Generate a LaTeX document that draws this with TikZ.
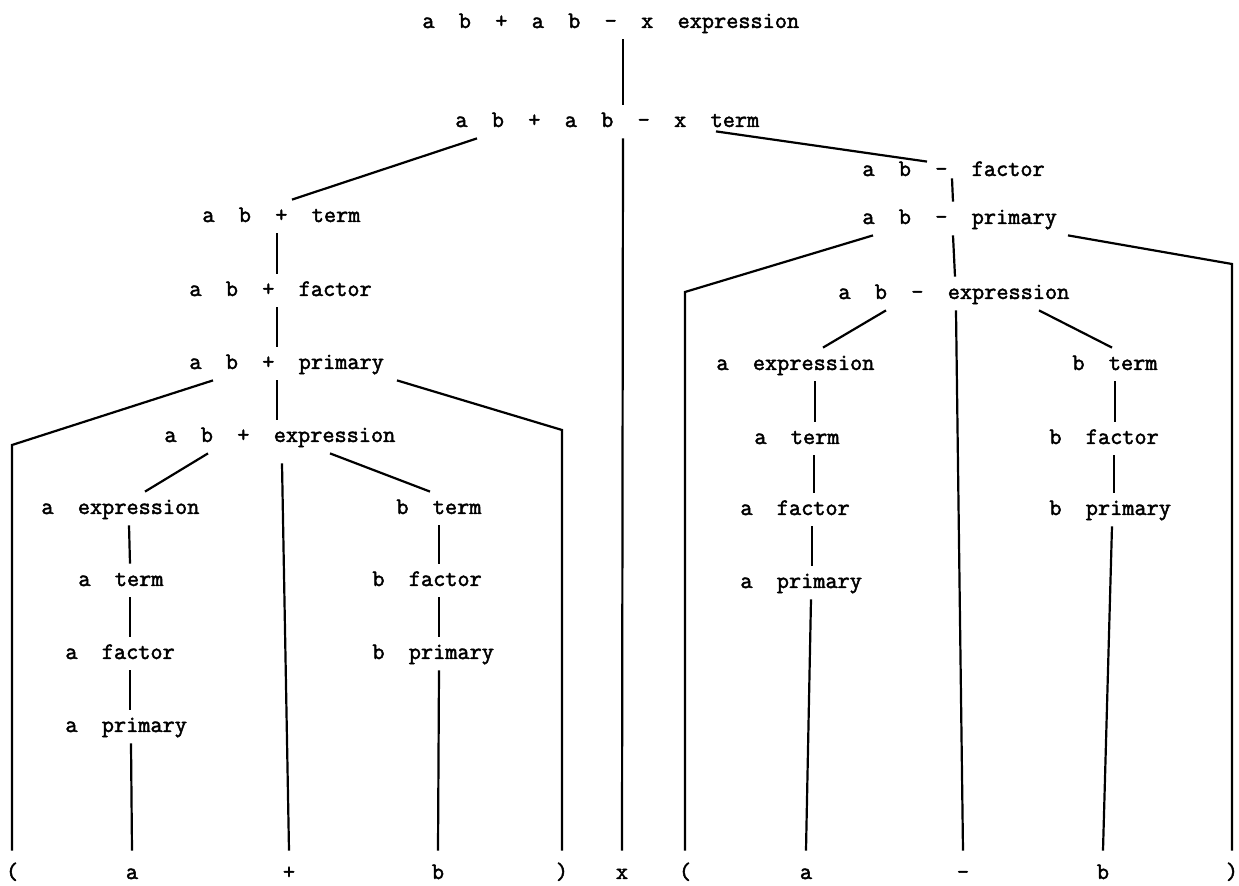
\documentclass[tikz,border=0pt]{standalone}
\usepackage{fontspec}
\usetikzlibrary{calc}
\newfontfamily\treefont{Latin Modern Mono}[FakeBold=2]
\tikzset{
	lab/.style={font={\fontsize{11.8pt}{14pt}\treefont}, anchor=base west, inner xsep=0pt, inner ysep=5.5pt, text height=5.5pt, text depth=0pt},
	leaf/.style={lab, anchor=base, text height=8.5pt},
	edge/.style={line width=1.1pt}
}
\begin{document}
\begin{tikzpicture}[x=0.5pt, y=-0.5pt]
			\useasboundingbox (0,0) rectangle (1239,886);

			\node[lab] (e0) at(422, 28){a~~b~~+~~a~~b~~-~~x~~expression};
			\node[lab] (t0) at(455, 127){a~~b~~+~~a~~b~~-~~x~~term};

			% left part
			\node[lab] (tL) at(202, 222){a~~b~~+~~term};
			\node[lab] (fL) at(189, 296){a~~b~~+~~factor};
			\node[lab] (pL) at(189, 369){a~~b~~+~~primary};
			\node[lab] (eL) at(164, 442){a~~b~~+~~expression};
				\node[lab] (eLa) at(41, 514){a~~expression};
				\node[lab] (tLa) at(78, 586){a~~term};
				\node[lab] (fLa) at(65, 659){a~~factor};
				\node[lab] (pLa) at(65, 732){a~~primary};
				\node[lab] (tLb) at(396, 514){b~~term};
				\node[lab] (fLb) at(372, 586){b~~factor};
				\node[lab] (pLb) at(372, 659){b~~primary};

			% right part
			\node[lab] (fR) at(862, 176){a~~b~~-~~factor};
			\node[lab] (pR) at(862, 224){a~~b~~-~~primary};
			\node[lab] (eR) at(838, 299){a~~b~~-~~expression};
				\node[lab] (eRa) at(716, 370){a~~expression};
				\node[lab] (tRa) at(754, 444){a~~term};
				\node[lab] (fRa) at(740, 515){a~~factor};
				\node[lab] (pRa) at(740, 588){a~~primary};
				\node[lab] (tRb) at(1072, 370){b~~term};
				\node[lab] (fRb) at(1049, 444){b~~factor};
				\node[lab] (pRb) at(1049, 515){b~~primary};

			% bottom row
			\node[leaf] (openL) at(12, 879){(};
			\node[leaf] (aL) at(132, 879){a};
			\node[leaf] (plus) at(289, 879){+};
			\node[leaf] (bL) at(438, 879){b};
			\node[leaf] (closeL) at(562, 879){)};
			\node[leaf] (x) at(622, 879){x};
			\node[leaf] (openR) at(685, 879){(};
			\node[leaf] (aR) at(806, 879){a};
			\node[leaf] (minus) at(963, 879){-};
			\node[leaf] (bR) at(1103, 879){b};
			\node[leaf] (closeR) at(1232, 879){)};

			\draw[edge] (e0.south -| 623,0) to (t0.north -| 623,0);
			\draw[edge] (t0.south -| 477,0) to (tL.north -| 292,0);
			\draw[edge] (t0.south -| 623,0) to (x.north);
			\draw[edge] ($(t0.south -| 716,0)+(0,-7)$) to ($(fR.north -| 927,0)+(0,8)$);

				\draw[edge] (tL.south -| 277,0) to (fL.north -| 277,0);
				\draw[edge] (fL.south -| 277,0) to (pL.north -| 277,0);
				\draw[edge] (pL.south -| 213,0) to (openL.north |- 0,445) to (openL.north);
				\draw[edge] (pL.south -| 277,0) to (eL.north -| 277,0);
				\draw[edge] (pL.south -| 397,0) to (closeL.north |- 0,430) to (closeL.north);
				\draw[edge] (eL.south -| 208,0) to (eLa.north -| 145,0);
				\draw[edge] ($(eL.south -| 282,0)+(0,10)$) to (plus.north);
				\draw[edge] (eL.south -| 330,0) to (tLb.north -| 430,0);
				\draw[edge] (eLa.south -| 129,0) to (tLa.north -| 130,0);
				\draw[edge] (tLa.south -| 130,0) to (fLa.north -| 130,0);
				\draw[edge] (fLa.south -| 130,0) to (pLa.north -| 130,0);
				\draw[edge] (pLa.south -| 131,0) to (aL.north);
				\draw[edge] (tLb.south -| 439,0) to (fLb.north -| 439,0);
				\draw[edge] (fLb.south -| 439,0) to (pLb.north -| 439,0);
				\draw[edge] (pLb.south -| 439,0) to (bL.north);

				\draw[edge] ($(fR.south -| 952,0)+(0,-9)$) to (pR.north -| 953,0);
				\draw[edge] (pR.south -| 873,0) to (openR.north |- 0,292) to (openR.north);
				\draw[edge] (pR.south -| 953,0) to (eR.north -| 955,0);
				\draw[edge] (pR.south -| 1068,0) to (closeR.north |- 0,264) to (closeR.north);
				\draw[edge] (eR.south -| 886,0) to (eRa.north -| 823,0);
				\draw[edge] (eR.south -| 956,0) to (minus.north);
				\draw[edge] (eR.south -| 1039,0) to (tRb.north -| 1112,0);
				\draw[edge] (eRa.south -| 815,0) to (tRa.north -| 815,0);
				\draw[edge] (tRa.south -| 814,0) to (fRa.north -| 814,0);
				\draw[edge] (fRa.south -| 812,0) to (pRa.north -| 812,0);
				\draw[edge] (pRa.south -| 811,0) to (aR.north);
				\draw[edge] (tRb.south -| 1115,0) to (fRb.north -| 1115,0);
				\draw[edge] (fRb.south -| 1114,0) to (pRb.north -| 1114,0);
				\draw[edge] (pRb.south -| 1112,0) to (bR.north);

		\end{tikzpicture}
\end{document}
